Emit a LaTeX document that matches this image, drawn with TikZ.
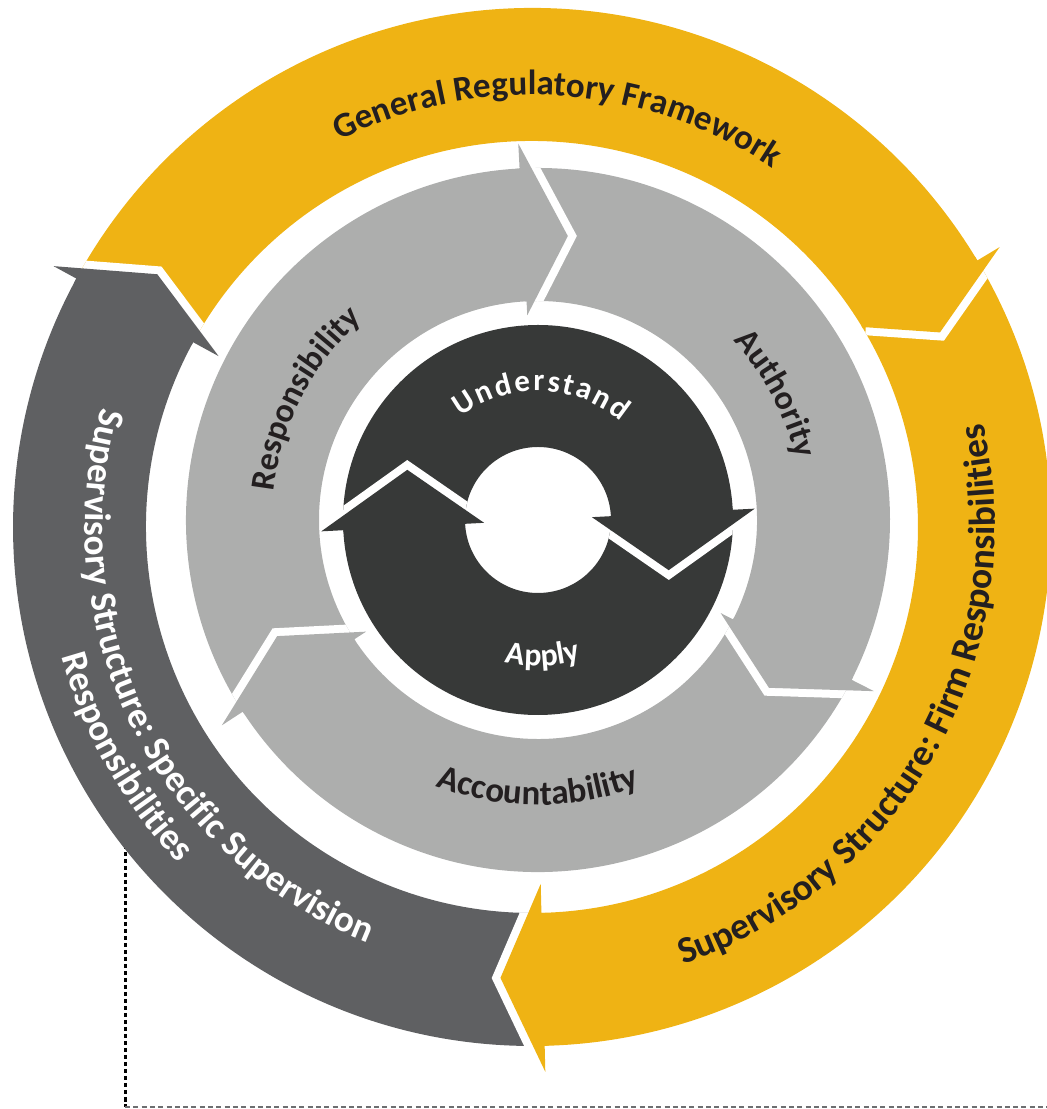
\documentclass[tikz,border=0pt]{standalone}
\usepackage{fontspec}
\setmainfont{Carlito}
\usetikzlibrary{decorations.text}
\definecolor{gold}{HTML}{EFB314}
\definecolor{slate}{HTML}{5F6062}
\definecolor{silver}{HTML}{ADAEAD}
\definecolor{coal}{HTML}{373938}
\definecolor{ink}{HTML}{231F20}
\definecolor{dashgray}{HTML}{6D6E70}
\newcommand{\fOuter}{\fontsize{37}{40}\selectfont\bfseries}
\newcommand{\fRight}{\fontsize{37.5}{40}\selectfont\bfseries}
\newcommand{\fTop}{\fontsize{35}{40}\selectfont\bfseries}
\newcommand{\fMid}{\fontsize{34}{40}\selectfont\bfseries}
\newcommand{\fAcc}{\fontsize{35}{40}\selectfont\bfseries}
\newcommand{\fCore}{\fontsize{31}{36}\selectfont\bfseries}
\newcommand{\fApply}{\fontsize{32}{36}\selectfont\bfseries}
\tikzset{
  annsec/.style n args={4}{insert path={(#1:#4) arc[start angle=#1,end angle=#2,radius=#4] -- (#2:#3) arc[start angle=#2,end angle=#1,radius=#3] -- cycle}},
  headtri/.style n args={7}{insert path={(#1+0.5:#6) -- (#1+0.5:#7) -- (#1:#7) -- (#1:#4) -- (#2:#3) -- (#1:#5) -- (#1:#6) -- cycle}},
  chev/.style n args={5}{insert path={(#1:#4) -- (#2:#3) -- (#1:#5)}},
  gapline/.style={draw=white, line width=16pt, line join=miter, miter limit=20},
}
\begin{document}
\begin{tikzpicture}[x=1pt,y=1pt]
\useasboundingbox (0,0) rectangle (1047,1109);
\coordinate (O2) at (532,582);
\coordinate (O1) at (538,589);
\coordinate (dashTop) at (125,264);
\coordinate (dashCorner) at (125,2);
\coordinate (dashEnd) at (1047,2);
\draw[black, line width=3pt, dash pattern=on 4.5pt off 2.5pt] (dashTop) -- (dashCorner);
\draw[dashgray, line width=1.4pt, dash pattern=on 5pt off 3.3pt] (dashCorner) -- (dashEnd);

% ---------- outer ring ----------
\begin{scope}[shift={(O2)}]
  \fill[gold, annsec={151.4}{30.9}{386}{519}];
  \fill[gold, annsec={30.9}{-88.6}{386}{519}];
  \fill[slate, annsec={-88.6}{-208.6}{386}{519}];
  \begin{scope}\clip[annsec={30.9}{-88.6}{386}{519}];
    \draw[gapline, chev={30.9}{25.5}{452}{545}{389}];
  \end{scope}
  \fill[gold, headtri={30.9}{25.5}{452}{545}{389}{386}{519}];
  \begin{scope}\clip[annsec={-88.6}{-208.6}{386}{519}];
    \draw[gapline, chev={-88.6}{-94}{452}{545}{357}];
  \end{scope}
  \fill[gold, headtri={-88.6}{-94}{452}{545}{357}{386}{519}];
  \begin{scope}\clip[annsec={151.4}{30.9}{386}{519}];
    \draw[gapline, chev={151.4}{146}{452}{545}{357}];
  \end{scope}
  \fill[slate, headtri={151.4}{146}{452}{545}{357}{386}{519}];

  \path[decorate, decoration={text along path, text align=center, text color=ink,
    text={|\fTop|General Regulatory Framework}}]
    (146.3:432) arc[start angle=146.3, end angle=26.3, radius=432];
  \path[decorate, decoration={text along path, text align=center, text color=ink,
    text={|\fRight|Supervisory Structure: Firm Responsibilities}}]
    (-89:463) arc[start angle=-89, end angle=31, radius=463];
  \path[decorate, decoration={text along path, text align=center, text color=white,
    text={|\fOuter|Supervisory Structure: Specific Supervision}}]
    (146.5:447) arc[start angle=146.5, end angle=266.5, radius=447];
  \path[decorate, decoration={text along path, text align=center, text color=white,
    text={|\fOuter|Responsibilities}}]
    (169.5:488) arc[start angle=169.5, end angle=249.5, radius=488];
\end{scope}

% ---------- grey ring ----------
\begin{scope}[shift={(O1)}]
  \fill[silver, annsec={213}{93}{219}{352}];
  \fill[silver, annsec={93}{-27}{219}{352}];
  \fill[silver, annsec={-27}{-147}{219}{352}];
  \begin{scope}\clip[annsec={93}{-27}{219}{352}];
    \draw[gapline, chev={93}{84}{285.5}{377}{205}];
  \end{scope}
  \fill[silver, headtri={93}{84}{285.5}{377}{205}{219}{352}];
  \begin{scope}\clip[annsec={-27}{-147}{219}{352}];
    \draw[gapline, chev={-27}{-36}{285.5}{377}{205}];
  \end{scope}
  \fill[silver, headtri={-27}{-36}{285.5}{377}{205}{219}{352}];
  \begin{scope}\clip[annsec={213}{93}{219}{352}];
    \draw[gapline, chev={213}{204}{285.5}{377}{205}];
  \end{scope}
  \fill[silver, headtri={213}{204}{285.5}{377}{205}{219}{352}];

  \path[decorate, decoration={text along path, text align=center, text color=ink,
    text={|\fMid|Responsibility}}]
    (192.5:266) arc[start angle=192.5, end angle=112.5, radius=266];
  \path[decorate, decoration={text along path, text align=center, text color=ink,
    text={|\fMid|Authority}}]
    (68:265) arc[start angle=68, end angle=-12, radius=265];
  \path[decorate, decoration={text along path, text align=center, text color=ink,
    text={|\fAcc|Accountability}}]
    (-130:285) arc[start angle=-130, end angle=-50, radius=285];

% ---------- core ----------
  \fill[coal, annsec={183}{3}{73}{195}];
  \fill[coal, annsec={3}{-177}{73}{195}];
  \begin{scope}\clip[annsec={3}{-177}{73}{195}];
    \draw[gapline, chev={3}{-21}{140}{217}{54}];
  \end{scope}
  \fill[coal, headtri={3}{-21}{140}{217}{54}{73}{195}];
  \begin{scope}\clip[annsec={183}{3}{73}{195}];
    \draw[gapline, chev={183}{159}{140}{217}{54}];
  \end{scope}
  \fill[coal, headtri={183}{159}{140}{217}{54}{73}{195}];

  \path[decorate, decoration={text along path, text align={fit to path}, text color=white,
    text={|\fCore|Understand}}]
    (127:129) arc[start angle=127, end angle=50, radius=129];
  \path[decorate, decoration={text along path, text align=center, text color=white,
    text={|\fApply|Apply}}]
    (-128:146) arc[start angle=-128, end angle=-48, radius=146];
\end{scope}
\end{tikzpicture}
\end{document}
